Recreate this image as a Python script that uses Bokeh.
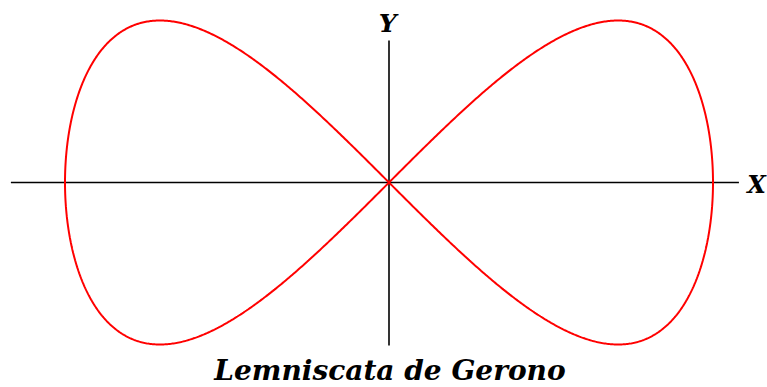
import numpy as np
from bokeh.plotting import figure
from bokeh.models import Range1d
from bokeh.core.properties import value
from bokeh.embed import file_html
from bokeh.resources import INLINE

# Lemniscate of Gerono: x = a*cos(t), y = a*sin(t)*cos(t)
a = 1.0
t = np.linspace(0, 2 * np.pi, 1201)
curve_x = a * np.cos(t)
curve_y = a * np.sin(t) * np.cos(t)

# axis segments (in curve units)
x_axis_x = [-1.167, 1.080]
x_axis_y = [0.0, 0.0]
y_axis_x = [0.0, 0.0]
y_axis_y = [-0.503, 0.438]

labels_text = ["Y", "X", "Lemniscata de Gerono"]

W, H = 767, 387
cx, cy, scale = 388.5, 182.0, 324.0

p = figure(width=W, height=H, output_backend="svg", toolbar_location=None,
           x_range=Range1d(-cx / scale, (W - cx) / scale),
           y_range=Range1d(-(H - cy) / scale, cy / scale),
           min_border=0)
p.axis.visible = False
p.grid.visible = False
p.outline_line_color = None
p.background_fill_color = "white"
p.border_fill_color = "white"

p.line(x_axis_x, x_axis_y, line_color="black", line_width=1.6)
p.line(y_axis_x, y_axis_y, line_color="black", line_width=1.6)
p.line(curve_x, curve_y, line_color="#FF0000", line_width=2.0)

common = dict(text_font=value("DejaVu Serif"), text_font_style="bold italic",
              text_color="black", text_baseline="middle")
p.text(x=[-0.004], y=[0.491], text=[labels_text[0]], text_align="center",
       text_font_size="25px", **common)
p.text(x=[1.106], y=[-0.005], text=[labels_text[1]], text_align="left",
       text_font_size="24px", **common)
p.text(x=[0.003], y=[-0.580], text=[labels_text[2]], text_align="center",
       text_font_size="28px", **common)

open("out.html", "w").write(file_html(p, INLINE))
